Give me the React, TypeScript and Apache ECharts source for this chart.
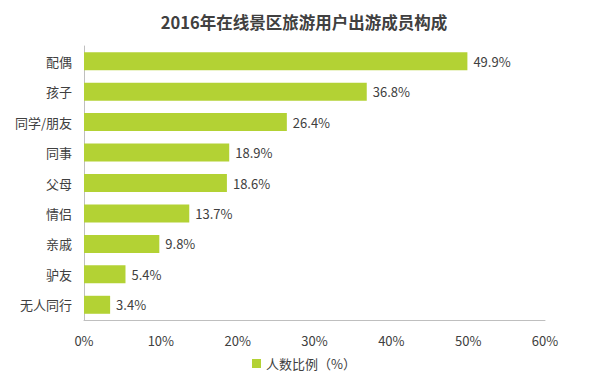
import React, { useEffect, useRef } from "react";
import * as echarts from "echarts";

const categories = ["配偶", "孩子", "同学/朋友", "同事", "父母", "情侣", "亲戚", "驴友", "无人同行"];
const values = [49.9, 36.8, 26.4, 18.9, 18.6, 13.7, 9.8, 5.4, 3.4];
const seriesName = "人数比例（%）";
const title = "2016年在线景区旅游用户出游成员构成";

export default function App() {
  const ref = useRef<HTMLDivElement>(null);
  useEffect(() => {
    if (!ref.current) return;
    const chart = echarts.init(ref.current, null, { renderer: "svg" });
    const font = "'Noto Sans CJK SC', 'Noto Sans', sans-serif";
    chart.setOption({
      animation: false,
      textStyle: { fontFamily: font },
      title: {
        text: title,
        left: "center",
        top: 9,
        textStyle: { fontSize: 16.5, fontWeight: "bold", color: "#404040", fontFamily: font },
      },
      legend: {
        bottom: 7,
        left: "center",
        itemWidth: 9,
        itemHeight: 9,
        icon: "rect",
        itemGap: 4,
        textStyle: { fontSize: 13, color: "#404040", fontFamily: font },
        data: [seriesName],
      },
      grid: { left: 84, right: 63, top: 46, bottom: 62, containLabel: false },
      xAxis: {
        type: "value",
        min: 0,
        max: 60,
        interval: 10,
        axisLine: { show: true, lineStyle: { color: "#bfbfbf", width: 1 } },
        axisTick: { show: false },
        splitLine: { show: false },
        axisLabel: { formatter: "{value}%", fontSize: 13, color: "#404040", margin: 14, fontFamily: font },
      },
      yAxis: {
        type: "category",
        inverse: true,
        data: categories,
        axisLine: { show: true, lineStyle: { color: "#bfbfbf", width: 1 } },
        axisTick: { show: false },
        axisLabel: { fontSize: 13, color: "#404040", margin: 12, fontFamily: font },
      },
      series: [
        {
          name: seriesName,
          type: "bar",
          data: values,
          barWidth: 18,
          itemStyle: { color: "#b3d234" },
          label: {
            show: true,
            position: "right",
            distance: 6,
            formatter: (p: any) => p.value.toFixed(1) + "%",
            fontSize: 13,
            color: "#404040",
            fontFamily: font,
          },
        },
      ],
    });
    return () => chart.dispose();
  }, []);
  return (
    <div
      ref={ref}
      style={{ position: "fixed", left: 0, top: 0, width: 608, height: 382, background: "#fff" }}
    />
  );
}
